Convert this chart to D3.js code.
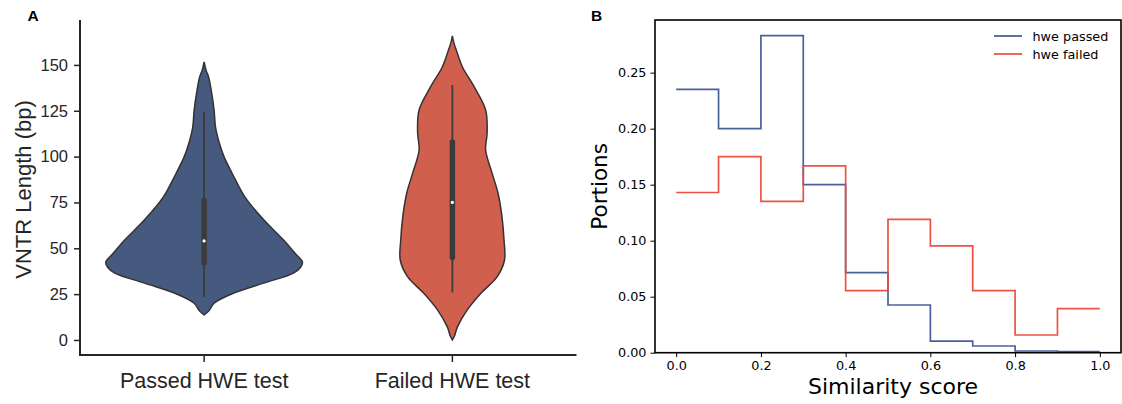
<!DOCTYPE html>
<html>
<head>
<meta charset="utf-8">
<script src="https://cdn.jsdelivr.net/npm/d3@7"></script>
<style>
  html, body { margin: 0; padding: 0; background: #fff; }
  svg { display: block; }
</style>
</head>
<body>
<svg id="chart" width="1122" height="404"></svg>
<script>
// ---------------- Data ----------------
// Panel A: violin plots
const groups = ["Passed HWE test", "Failed HWE test"];
const groupColors = ["#46597f", "#d05f4d"];
const yTicksA = [0, 25, 50, 75, 100, 125, 150];

// density profiles (value in bp, relative density; 1 = widest violin)
const passedValues  = [151.6, 147, 143.5, 135, 125.5, 116, 108, 100, 89, 78, 65.5, 54.5, 47, 42.5, 39.5, 36.5, 31, 25.6, 20, 16, 13.6];
const passedDensity = [0, 0.02, 0.045, 0.075, 0.10, 0.115, 0.15, 0.20, 0.30, 0.41, 0.60, 0.80, 0.92, 0.99, 0.97, 0.90, 0.60, 0.30, 0.10, 0.05, 0];
const failedValues  = [165.8, 162, 158, 149, 138, 125.5, 113, 103.6, 91, 80, 67, 54.5, 43.6, 34.4, 25.6, 16.4, 7, 2, 0];
const failedDensity = [0, 0.015, 0.04, 0.10, 0.22, 0.335, 0.35, 0.335, 0.40, 0.46, 0.50, 0.52, 0.525, 0.45, 0.29, 0.15, 0.05, 0.02, 0];

// box stats: [whiskerLow, Q1, median, Q3, whiskerHigh]
const passedBox = [23.5, 42, 54, 76, 124.4];
const failedBox = [26, 45, 75, 108, 139];

// Panel B: step histograms
const binEdges = [0.0, 0.1, 0.2, 0.3, 0.4, 0.5, 0.6, 0.7, 0.8, 0.9, 1.0];
const hwePassed = [0.235, 0.200, 0.283, 0.150, 0.0715, 0.0426, 0.0104, 0.006, 0.0015, 0.001];
const hweFailed = [0.143, 0.175, 0.135, 0.1667, 0.0554, 0.119, 0.0953, 0.0554, 0.0158, 0.0393];
const xTicksB = [0.0, 0.2, 0.4, 0.6, 0.8, 1.0];
const yTicksB = [0.00, 0.05, 0.10, 0.15, 0.20, 0.25];
const seriesNames = ["hwe passed", "hwe failed"];
const seriesColors = ["#3f5896", "#ec4a3a"];

// ---------------- Drawing ----------------
const svg = d3.select("#chart");
const fontA = "'Liberation Sans', Arial, Helvetica, sans-serif";
const fontB = "'DejaVu Sans', sans-serif";

// ===== Panel A =====
const A = { left: 80, right: 576.5, top: 20, bottom: 355 };
const xA = d3.scaleBand().domain(groups).range([A.left, A.right]).padding(0);
const yA = d3.scaleLinear().domain([-8.2, 174.5]).range([A.bottom, A.top]);
const wA = d3.scaleLinear().domain([0, 1]).range([0, xA.bandwidth() * 0.4]);

const gA = svg.append("g");

const profiles = [
  { vals: passedValues, dens: passedDensity, box: passedBox },
  { vals: failedValues, dens: failedDensity, box: failedBox }
];

profiles.forEach((p, i) => {
  const cx = xA(groups[i]) + xA.bandwidth() / 2;
  const pts = p.vals.map((v, k) => ({ v, d: p.dens[k] }));
  const area = d3.area()
    .y(d => yA(d.v))
    .x0(d => cx - wA(d.d))
    .x1(d => cx + wA(d.d))
    .curve(d3.curveCatmullRom.alpha(0.5));
  gA.append("path")
    .attr("d", area(pts))
    .attr("fill", groupColors[i])
    .attr("stroke", "#333")
    .attr("stroke-width", 1.5);
  // whisker
  gA.append("line")
    .attr("x1", cx).attr("x2", cx)
    .attr("y1", yA(p.box[0])).attr("y2", yA(p.box[4]))
    .attr("stroke", "#3b3b3b").attr("stroke-width", 1.8);
  // box
  gA.append("line")
    .attr("x1", cx).attr("x2", cx)
    .attr("y1", yA(p.box[1])).attr("y2", yA(p.box[3]))
    .attr("stroke", "#3b3b3b").attr("stroke-width", 5.5)
    .attr("stroke-linecap", "round");
  // median
  gA.append("circle")
    .attr("cx", cx).attr("cy", yA(p.box[2]))
    .attr("r", 1.6).attr("fill", "#fff");
});

// y axis
const yAxisA = gA.append("g")
  .attr("transform", `translate(${A.left},0)`)
  .call(d3.axisLeft(yA).tickValues(yTicksA).tickSize(6).tickPadding(6));
yAxisA.select(".domain").remove();
yAxisA.selectAll(".tick line").attr("stroke", "#262626").attr("stroke-width", 1.5);
yAxisA.selectAll(".tick text").attr("font-family", fontA).attr("font-size", 16.5).attr("fill", "#262626");

// x axis
const xAxisA = gA.append("g")
  .attr("transform", `translate(0,${A.bottom})`)
  .call(d3.axisBottom(xA).tickSize(7).tickPadding(6));
xAxisA.select(".domain").remove();
xAxisA.selectAll(".tick line").attr("stroke", "#262626").attr("stroke-width", 1.5);
xAxisA.selectAll(".tick text").attr("font-family", fontA).attr("font-size", 21.5).attr("fill", "#262626")
  .attr("dy", "0.95em");

// spines
gA.append("line").attr("x1", A.left).attr("x2", A.left).attr("y1", A.top).attr("y2", A.bottom + 1)
  .attr("stroke", "#262626").attr("stroke-width", 2);
gA.append("line").attr("x1", A.left - 1).attr("x2", A.right).attr("y1", A.bottom).attr("y2", A.bottom)
  .attr("stroke", "#262626").attr("stroke-width", 2);

gA.append("text")
  .attr("transform", `translate(31,${(A.top + A.bottom) / 2 + 2}) rotate(-90)`)
  .attr("text-anchor", "middle")
  .attr("font-family", fontA).attr("font-size", 22).attr("fill", "#262626")
  .text("VNTR Length (bp)");

svg.append("text").attr("x", 27.5).attr("y", 20.5)
  .attr("font-family", fontA).attr("font-weight", "bold").attr("font-size", 15.5)
  .text("A");

// ===== Panel B =====
const B = { left: 655, right: 1121, top: 20, bottom: 352.7 };
const xB = d3.scaleLinear().domain([-0.05, 1.05]).range([B.left, B.right]);
const yB = d3.scaleLinear().domain([0, 0.297]).range([B.bottom, B.top]);
const gB = svg.append("g");

const stepLine = d3.line()
  .x(d => xB(d[0])).y(d => yB(d[1]))
  .curve(d3.curveStepAfter);

[hwePassed, hweFailed].forEach((vals, i) => {
  const pts = vals.map((v, k) => [binEdges[k], v]);
  pts.push([binEdges[binEdges.length - 1], vals[vals.length - 1]]);
  gB.append("path")
    .attr("d", stepLine(pts))
    .attr("fill", "none")
    .attr("stroke", seriesColors[i])
    .attr("stroke-width", 1.7)
    .attr("stroke-opacity", 0.95);
});

const yAxisB = gB.append("g")
  .attr("transform", `translate(${B.left},0)`)
  .call(d3.axisLeft(yB).tickValues(yTicksB).tickFormat(d3.format(".2f")).tickSize(4.5).tickPadding(4));
yAxisB.select(".domain").remove();
yAxisB.selectAll(".tick line").attr("stroke", "#000").attr("stroke-width", 1);
yAxisB.selectAll(".tick text").attr("font-family", fontB).attr("font-size", 12.8).attr("fill", "#000");

const xAxisB = gB.append("g")
  .attr("transform", `translate(0,${B.bottom})`)
  .call(d3.axisBottom(xB).tickValues(xTicksB).tickFormat(d3.format(".1f")).tickSize(4.5).tickPadding(4));
xAxisB.select(".domain").remove();
xAxisB.selectAll(".tick line").attr("stroke", "#000").attr("stroke-width", 1);
xAxisB.selectAll(".tick text").attr("font-family", fontB).attr("font-size", 12.8).attr("fill", "#000");

gB.append("rect")
  .attr("x", B.left).attr("y", B.top)
  .attr("width", B.right - B.left).attr("height", B.bottom - B.top)
  .attr("fill", "none").attr("stroke", "#000").attr("stroke-width", 1.6);

gB.append("text")
  .attr("transform", `translate(607,${(B.top + B.bottom) / 2}) rotate(-90)`)
  .attr("text-anchor", "middle")
  .attr("font-family", fontB).attr("font-size", 21.5).attr("fill", "#000")
  .text("Portions");

gB.append("text")
  .attr("x", (B.left + B.right) / 2 + 5).attr("y", 394)
  .attr("text-anchor", "middle")
  .attr("font-family", fontB).attr("font-size", 22).attr("fill", "#000")
  .text("Similarity score");

// legend
const leg = gB.append("g");
seriesNames.forEach((name, i) => {
  const ly = 36 + i * 18;
  leg.append("line").attr("x1", 994).attr("x2", 1022).attr("y1", ly).attr("y2", ly)
    .attr("stroke", seriesColors[i]).attr("stroke-width", 1.7);
  leg.append("text").attr("x", 1032.5).attr("y", ly + 4.5)
    .attr("font-family", fontB).attr("font-size", 12.8).attr("fill", "#000")
    .text(name);
});

svg.append("text").attr("x", 591).attr("y", 20.5)
  .attr("font-family", fontA).attr("font-weight", "bold").attr("font-size", 15.5)
  .text("B");
</script>
</body>
</html>
